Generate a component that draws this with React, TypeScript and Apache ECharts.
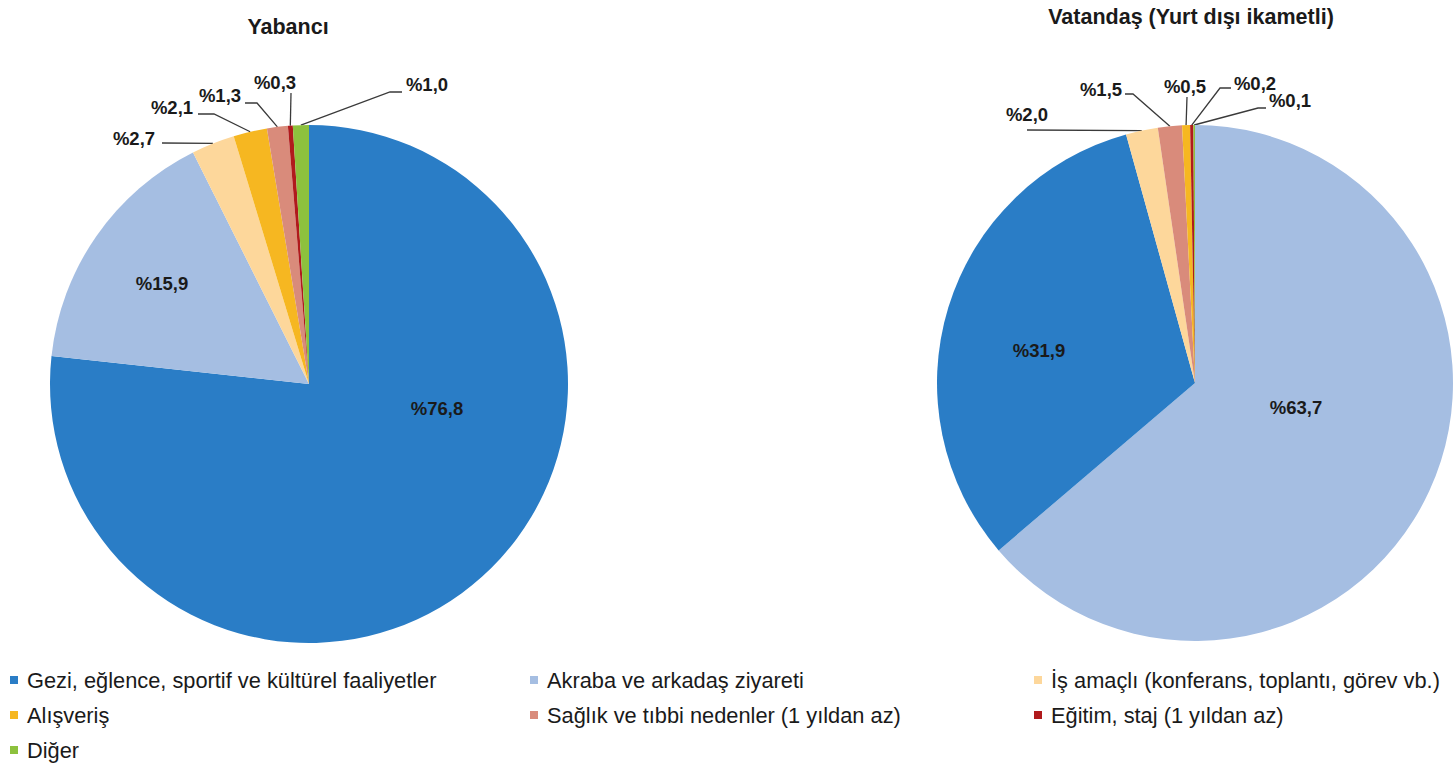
import React, { useEffect, useRef } from "react";
import * as echarts from "echarts";

// ---- data ----
const CATEGORIES = [
  "Gezi, eğlence, sportif ve kültürel faaliyetler",
  "Akraba ve arkadaş ziyareti",
  "İş amaçlı (konferans, toplantı, görev vb.)",
  "Alışveriş",
  "Sağlık ve tıbbi nedenler (1 yıldan az)",
  "Eğitim, staj (1 yıldan az)",
  "Diğer",
];
const TITLES = ["Yabancı", "Vatandaş (Yurt dışı ikametli)"];
// values in category order
const FOREIGN_VALUES = [76.8, 15.9, 2.7, 2.1, 1.3, 0.3, 1.0];
const CITIZEN_VALUES = [31.9, 63.7, 2.0, 0.5, 1.5, 0.2, 0.1];
// order of slices (clockwise from 12 o'clock), as category indexes
const FOREIGN_ORDER = [0, 1, 2, 3, 4, 5, 6];
const CITIZEN_ORDER = [1, 0, 2, 4, 3, 5, 6];

// ---- styles / layout ----
const COLORS = ["#2a7dc6", "#a5bee2", "#fdd79b", "#f6b721", "#d98b7b", "#b01a1c", "#8dc13d"];
const FONT = "'Liberation Sans', Arial, sans-serif";
const LINE_COLOR = "#3a3a3a";

type LL = { x: number; y: number; line?: number[][] };
// label positions per series, keyed by category index (line: extra points after slice anchor)
const LABEL_LAYOUT: Record<number, LL>[] = [
  {
    0: { x: 437, y: 408 },
    1: { x: 162, y: 283 },
    2: { x: 134, y: 138, line: [[162, 143]] },
    3: { x: 172, y: 107, line: [[214, 114], [198, 114]] },
    4: { x: 220, y: 95, line: [[257, 103], [245, 103]] },
    5: { x: 275, y: 82, line: [[291, 93]] },
    6: { x: 427, y: 84, line: [[390, 92], [402, 92]] },
  },
  {
    0: { x: 1039, y: 350 },
    1: { x: 1296, y: 407 },
    2: { x: 1027, y: 114, line: [[1027, 130]] },
    4: { x: 1101, y: 89, line: [[1133, 94], [1125, 94]] },
    3: { x: 1185, y: 86, line: [[1187, 97]] },
    5: { x: 1255, y: 83, line: [[1220, 88], [1231, 88]] },
    6: { x: 1290, y: 100, line: [[1258, 108], [1266, 108]] },
  },
];
const INSIDE = [0, 1];

function buildSeries(idx: number, values: number[], order: number[], center: number[], radius: number) {
  return {
    type: "pie",
    center,
    radius,
    startAngle: 90,
    clockwise: true,
    avoidLabelOverlap: false,
    silent: true,
    itemStyle: { borderWidth: 0 },
    label: {
      show: true,
      position: "outside",
      fontFamily: FONT,
      fontSize: 18.5,
      fontWeight: "bold",
      color: "#1a1a1a",
      formatter: (p: any) => "%" + Number(p.value).toFixed(1).replace(".", ","),
    },
    labelLine: { show: true, lineStyle: { color: LINE_COLOR, width: 1.3 } },
    data: order.map((ci) => ({
      name: CATEGORIES[ci],
      value: values[ci],
      itemStyle: { color: COLORS[ci] },
      labelLine: { show: !INSIDE.includes(ci) },
    })),
    labelLayout: (params: any) => {
      const ci = order[params.dataIndex];
      const l = LABEL_LAYOUT[idx][ci];
      if (!l) return {};
      const res: any = { x: l.x, y: l.y, align: "center", verticalAlign: "middle" };
      if (l.line && params.labelLinePoints && params.labelLinePoints[0]) {
        res.labelLinePoints = [params.labelLinePoints[0], ...l.line];
      }
      return res;
    },
  };
}

const legendBase = {
  orient: "vertical",
  padding: 0,
  itemWidth: 8,
  itemHeight: 8,
  itemGap: 13,
  icon: "rect",
  selectedMode: false,
  textStyle: { fontFamily: FONT, fontSize: 21.8, lineHeight: 21.5, color: "#1a1a1a", padding: [0, 0, 0, 4] },
};

const titleStyle = { fontFamily: FONT, fontSize: 21.5, fontWeight: "bold", color: "#1a1a1a" };

export default function App() {
  const ref = useRef<HTMLDivElement>(null);
  useEffect(() => {
    if (!ref.current) return;
    const chart = echarts.init(ref.current, undefined, { renderer: "svg" });
    chart.setOption({
      animation: false,
      backgroundColor: "#ffffff",
      title: [
        {
          text: TITLES[0],
          left: 288,
          top: 27,
          padding: 0,
          textAlign: "center",
          textVerticalAlign: "middle",
          textStyle: titleStyle,
        },
        {
          text: TITLES[1],
          left: 1191,
          top: 17,
          padding: 0,
          textAlign: "center",
          textVerticalAlign: "middle",
          textStyle: titleStyle,
        },
      ],
      legend: [
        { ...legendBase, left: 10, top: 669, data: [CATEGORIES[0], CATEGORIES[3], CATEGORIES[6]] },
        { ...legendBase, left: 530, top: 669, data: [CATEGORIES[1], CATEGORIES[4]] },
        { ...legendBase, left: 1034, top: 669, data: [CATEGORIES[2], CATEGORIES[5]] },
      ],
      series: [
        buildSeries(0, FOREIGN_VALUES, FOREIGN_ORDER, [309, 384], 259),
        buildSeries(1, CITIZEN_VALUES, CITIZEN_ORDER, [1195, 383], 258),
      ],
    });
    return () => chart.dispose();
  }, []);
  return (
    <div
      ref={ref}
      style={{ position: "fixed", left: 0, top: 0, width: 1454, height: 767, background: "#fff" }}
    />
  );
}
